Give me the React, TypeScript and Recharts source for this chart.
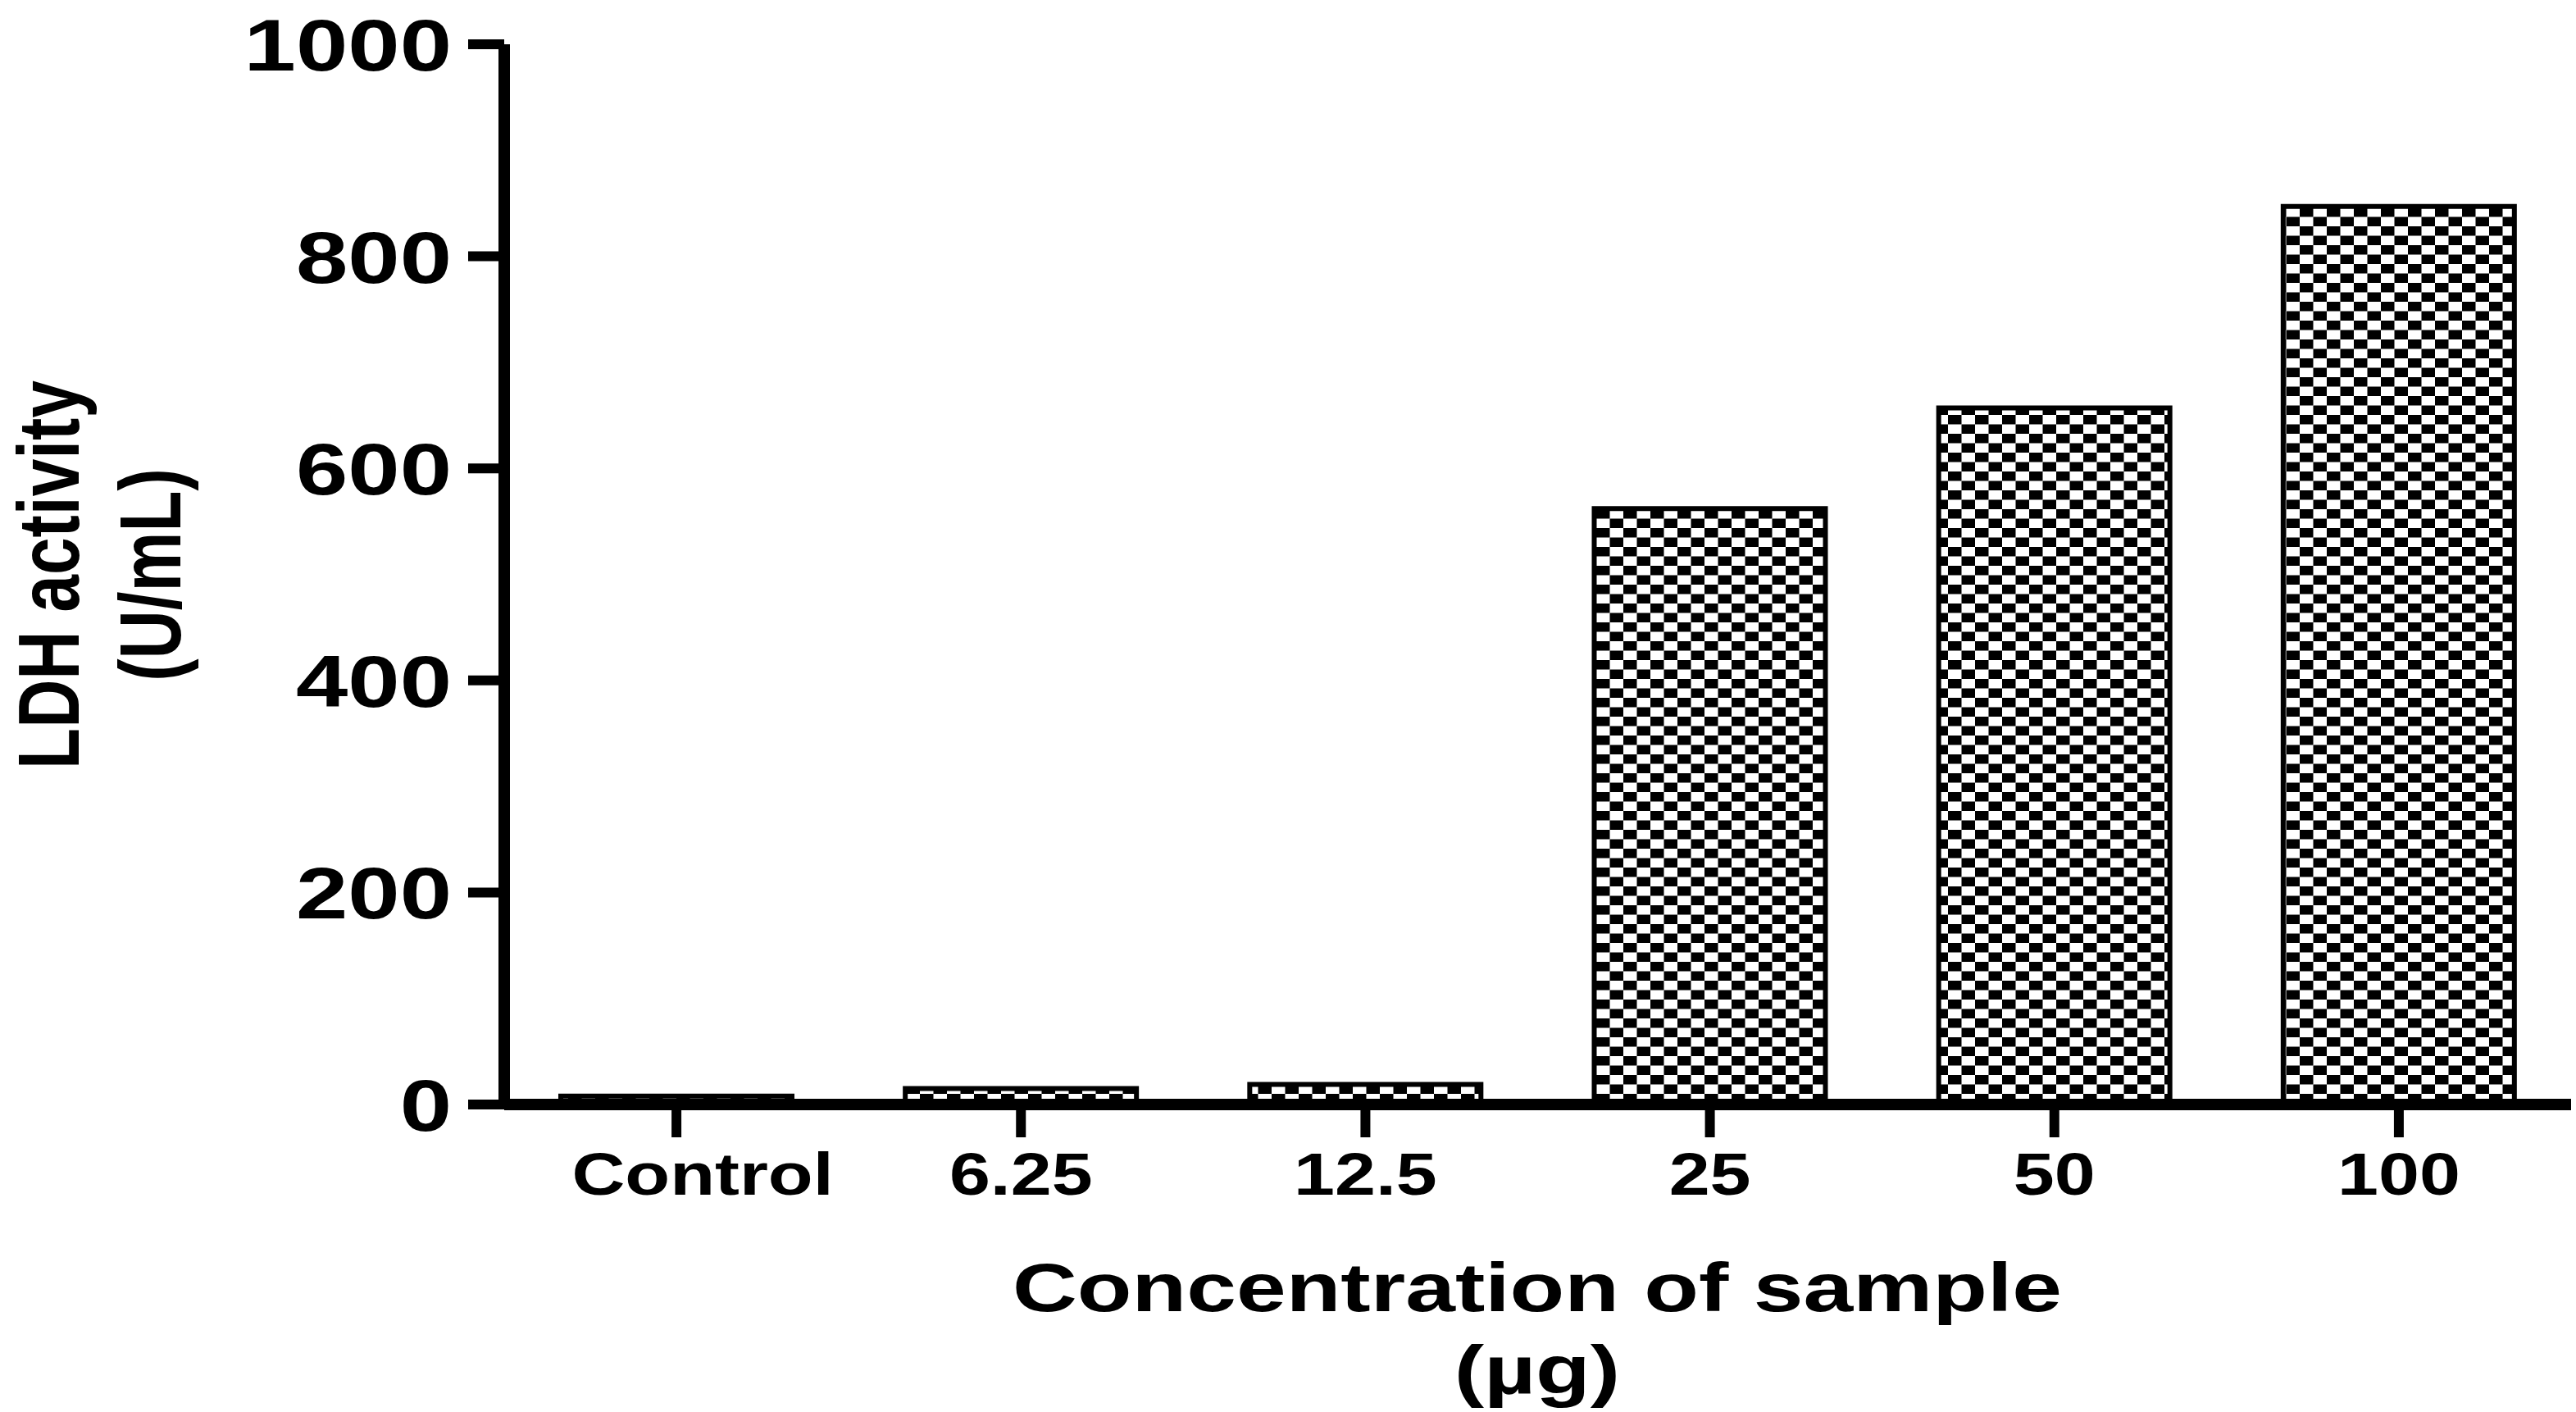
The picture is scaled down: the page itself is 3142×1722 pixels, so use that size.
import React from 'react';
import { BarChart, Bar, XAxis, YAxis, Cell } from 'recharts';

const categories = ['Control', '6.25', '12.5', '25', '50', '100'];
const ldhValues = [8, 15, 19, 562, 657, 847];
const yTicks = [0, 200, 400, 600, 800, 1000];

const data = categories.map((c, i) => ({ name: c, value: ldhValues[i] }));

const FONT = '"Liberation Sans", Arial, Helvetica, sans-serif';
const W = 3142;
const H = 1722;

const YTick = (props: any) => {
  const { x, y, payload } = props;
  return (
    <text
      x={0}
      y={0}
      dy="0.36em"
      transform={`translate(${x},${y}) scale(1.28,1)`}
      textAnchor="end"
      fontFamily={FONT}
      fontWeight="bold"
      fontSize={89}
      fill="#000"
    >
      {payload.value}
    </text>
  );
};

const XTick = (props: any) => {
  const { x, y, payload, index } = props;
  const nudge = index === 0 ? 32 : 0;
  return (
    <text
      x={0}
      y={0}
      transform={`translate(${x + nudge},${y + 68}) scale(1.23,1)`}
      textAnchor="middle"
      fontFamily={FONT}
      fontWeight="bold"
      fontSize={73}
      fill="#000"
    >
      {payload.value}
    </text>
  );
};

const XTitle = () => (
  <g>
    <text
      transform={`translate(1875,1599) scale(1.3,1)`}
      textAnchor="middle"
      fontFamily={FONT}
      fontWeight="bold"
      fontSize={84}
      fill="#000"
    >
      Concentration of sample
    </text>
    <text
      transform={`translate(1875,1700) scale(1.3,1)`}
      textAnchor="middle"
      fontFamily={FONT}
      fontWeight="bold"
      fontSize={84}
      fill="#000"
    >
      (µg)
    </text>
  </g>
);

const YTitle = () => (
  <g>
    <text
      transform={`translate(96,701) scale(1.28,1) rotate(-90)`}
      textAnchor="middle"
      fontFamily={FONT}
      fontWeight="bold"
      fontSize={82}
      fill="#000"
    >
      LDH activity
    </text>
    <text
      transform={`translate(220,701) scale(1.28,1) rotate(-90)`}
      textAnchor="middle"
      fontFamily={FONT}
      fontWeight="bold"
      fontSize={82}
      fill="#000"
    >
      (U/mL)
    </text>
  </g>
);

export default function App() {
  return (
    <div style={{ position: 'absolute', left: 0, top: 0, width: W, height: H, background: '#fff' }}>
      <BarChart
        width={W}
        height={H}
        data={data}
        margin={{ top: 54, right: 6, bottom: 0, left: 0 }}
      >
        <defs>
          <pattern id="checker" patternUnits="userSpaceOnUse" width={33} height={23} x={0} y={0}>
            <rect x={0} y={0} width={33} height={23} fill="#fff" />
            <rect x={0} y={0} width={16.5} height={11.5} fill="#000" />
            <rect x={16.5} y={11.5} width={16.5} height={11.5} fill="#000" />
          </pattern>
        </defs>
        <XAxis
          dataKey="name"
          height={375}
          axisLine={{ stroke: '#000', strokeWidth: 14 }}
          tickLine={{ stroke: '#000', strokeWidth: 12 }}
          tickSize={40}
          tick={<XTick />}
          interval={0}
          label={{ content: () => <XTitle /> }}
        />
        <YAxis
          width={615}
          domain={[0, 1000]}
          ticks={yTicks}
          interval={0}
          axisLine={{ stroke: '#000', strokeWidth: 14 }}
          tickLine={{ stroke: '#000', strokeWidth: 12 }}
          tickSize={44}
          tickMargin={20}
          tick={<YTick />}
          label={{ content: () => <YTitle /> }}
        />
        <Bar
          dataKey="value"
          barSize={282}
          fill="url(#checker)"
          stroke="#000"
          strokeWidth={6}
          isAnimationActive={false}
        >
          {data.map((d) => (
            <Cell key={d.name} fill="url(#checker)" stroke="#000" strokeWidth={6} />
          ))}
        </Bar>
      </BarChart>
    </div>
  );
}
